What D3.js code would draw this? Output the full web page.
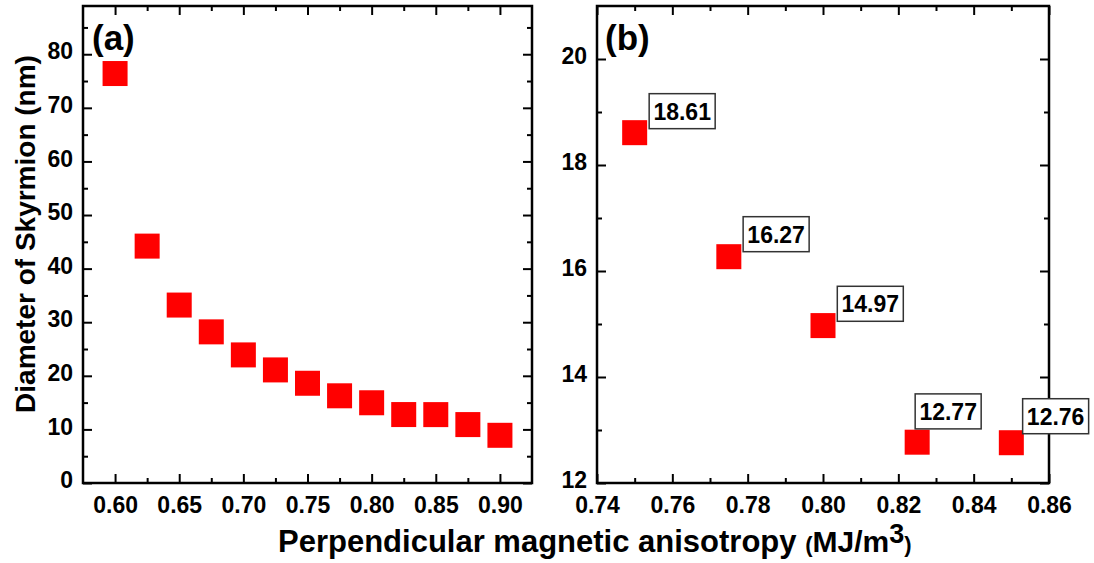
<!DOCTYPE html>
<html>
<head>
<meta charset="utf-8">
<script src="https://cdn.jsdelivr.net/npm/d3@7"></script>
<style>
  html, body { margin: 0; padding: 0; background: #fff; }
  svg text { font-family: "Liberation Sans", Arial, sans-serif; font-weight: bold; fill: #000; }
</style>
</head>
<body>
<svg id="chart" width="1094" height="563"></svg>
<script>
// ---------- data ----------
const aX = [0.600, 0.625, 0.650, 0.675, 0.700, 0.725, 0.750, 0.775, 0.800, 0.825, 0.850, 0.875, 0.900];
const aY = [76.4, 44.2, 33.2, 28.2, 23.9, 21.1, 18.61, 16.27, 14.97, 12.77, 12.76, 10.9, 8.9];
const bX = [0.750, 0.775, 0.800, 0.825, 0.850];
const bY = [18.61, 16.27, 14.97, 12.77, 12.76];
const bLabels = ["18.61", "16.27", "14.97", "12.77", "12.76"];

const aXTicks = [0.60, 0.65, 0.70, 0.75, 0.80, 0.85, 0.90];
const aXMinor = [0.625, 0.675, 0.725, 0.775, 0.825, 0.875];
const aYTicks = [0, 10, 20, 30, 40, 50, 60, 70, 80];
const aYMinor = [5, 15, 25, 35, 45, 55, 65, 75, 85];
const bXTicks = [0.74, 0.76, 0.78, 0.80, 0.82, 0.84, 0.86];
const bXMinor = [0.75, 0.77, 0.79, 0.81, 0.83, 0.85];
const bYTicks = [12, 14, 16, 18, 20];
const bYMinor = [13, 15, 17, 19];

const panelNames = ["(a)", "(b)"];
const yTitle = "Diameter of Skyrmion (nm)";
const xTitleMain = "Perpendicular magnetic anisotropy ";

// annotation box offsets (box left / box bottom relative to marker centre), layout only
const boxDx = [14.5, 14.3, 14.3, -2, 11.3];
const boxDy = [-4, -5, -4.3, -13.3, -9];

// ---------- layout ----------
const svg = d3.select("#chart");
const T = 6, B = 483;
const panels = [
  { x0: 83, x1: 532, xd: [0.575, 0.925], yd: [0, 89], xt: aXTicks, xm: aXMinor, yt: aYTicks, ym: aYMinor,
    xf: d3.format(".2f"), yf: d3.format("d"), px: aX, py: aY, lx: 9 },
  { x0: 597, x1: 1049, xd: [0.74, 0.86], yd: [12, 21], xt: bXTicks, xm: bXMinor, yt: bYTicks, ym: bYMinor,
    xf: d3.format(".2f"), yf: d3.format("d"), px: bX, py: bY, lx: 8 }
];
const MS = 25; // marker size

panels.forEach((p, i) => {
  const x = d3.scaleLinear().domain(p.xd).range([p.x0, p.x1]);
  const y = d3.scaleLinear().domain(p.yd).range([B, T]);
  p.x = x; p.y = y;
  const g = svg.append("g");

  const styleAxis = sel => {
    sel.select(".domain").remove();
    sel.selectAll(".tick line").attr("stroke", "#000").attr("stroke-width", 2);
    sel.selectAll(".tick text").style("font-size", "23px").attr("fill", "#000");
  };

  // bottom
  g.append("g").attr("transform", `translate(0,${B})`)
    .call(d3.axisBottom(x).tickValues(p.xt).tickFormat(p.xf).tickSizeInner(-9).tickSizeOuter(0).tickPadding(14))
    .call(styleAxis);
  g.append("g").attr("transform", `translate(0,${B})`)
    .call(d3.axisBottom(x).tickValues(p.xm).tickFormat("").tickSizeInner(-5).tickSizeOuter(0))
    .call(styleAxis);
  // top
  g.append("g").attr("transform", `translate(0,${T})`)
    .call(d3.axisTop(x).tickValues(p.xt).tickFormat("").tickSizeInner(-9).tickSizeOuter(0))
    .call(styleAxis);
  g.append("g").attr("transform", `translate(0,${T})`)
    .call(d3.axisTop(x).tickValues(p.xm).tickFormat("").tickSizeInner(-5).tickSizeOuter(0))
    .call(styleAxis);
  // left
  g.append("g").attr("transform", `translate(${p.x0},0)`)
    .call(d3.axisLeft(y).tickValues(p.yt).tickFormat(p.yf).tickSizeInner(-9).tickSizeOuter(0).tickPadding(10))
    .call(styleAxis)
    .call(s => s.selectAll(".tick text").attr("dy", "0.2em"));
  g.append("g").attr("transform", `translate(${p.x0},0)`)
    .call(d3.axisLeft(y).tickValues(p.ym).tickFormat("").tickSizeInner(-5).tickSizeOuter(0))
    .call(styleAxis);
  // right
  g.append("g").attr("transform", `translate(${p.x1},0)`)
    .call(d3.axisRight(y).tickValues(p.yt).tickFormat("").tickSizeInner(-9).tickSizeOuter(0))
    .call(styleAxis);
  g.append("g").attr("transform", `translate(${p.x1},0)`)
    .call(d3.axisRight(y).tickValues(p.ym).tickFormat("").tickSizeInner(-5).tickSizeOuter(0))
    .call(styleAxis);

  // frame
  g.append("rect").attr("x", p.x0).attr("y", T).attr("width", p.x1 - p.x0).attr("height", B - T)
    .attr("fill", "none").attr("stroke", "#000").attr("stroke-width", 2.5);

  // markers
  g.selectAll("rect.pt").data(p.px.map((v, k) => [v, p.py[k]])).enter().append("rect")
    .attr("class", "pt")
    .attr("x", d => x(d[0]) - MS / 2).attr("y", d => y(d[1]) - MS / 2)
    .attr("width", MS).attr("height", MS).attr("fill", "#ff0000");

  // panel label
  g.append("text").attr("x", p.x0 + p.lx).attr("y", 50)
    .style("font-size", "35px").text(panelNames[i]);
});

// annotation boxes on panel (b)
const pb = panels[1];
const BW = 66, BH = 35;
const ann = svg.append("g");
bX.forEach((v, k) => {
  const cx = pb.x(v), cy = pb.y(bY[k]);
  const bx = cx + boxDx[k], by = cy + boxDy[k] - BH;
  ann.append("rect").attr("x", bx).attr("y", by).attr("width", BW).attr("height", BH)
    .attr("fill", "#fff").attr("stroke", "#333").attr("stroke-width", 1.5);
  ann.append("text").attr("x", bx + BW / 2).attr("y", by + BH - 9)
    .attr("text-anchor", "middle").style("font-size", "23px").text(bLabels[k]);
});

// axis titles
svg.append("text")
  .attr("transform", "translate(35,234) rotate(-90)")
  .attr("text-anchor", "middle").style("font-size", "28px").text(yTitle);

const xt = svg.append("text").attr("x", 278).attr("y", 552);
xt.append("tspan").style("font-size", "31px").text(xTitleMain);
xt.append("tspan").style("font-size", "22px").text("(");
xt.append("tspan").style("font-size", "30px").text("MJ/m");
xt.append("tspan").style("font-size", "27px").attr("dy", -9).text("3");
xt.append("tspan").style("font-size", "22px").attr("dy", 9).text(")");
</script>
</body>
</html>
